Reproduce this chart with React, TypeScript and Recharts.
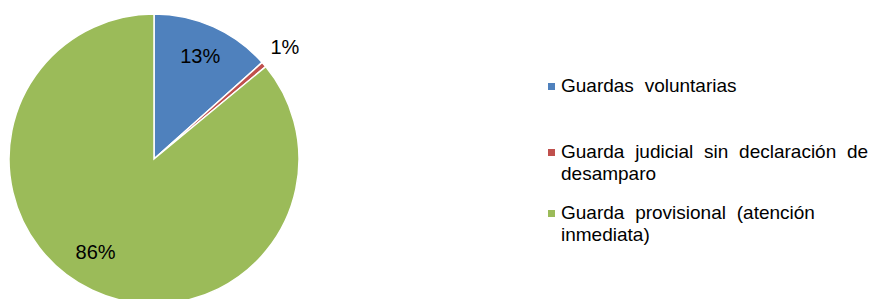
import React from 'react';
import { PieChart, Pie, Cell, Legend } from 'recharts';

const categories = [
  'Guardas voluntarias',
  'Guarda judicial sin declaración de desamparo',
  'Guarda provisional (atención inmediata)',
];
const shares = [13.4, 0.6, 86.0];
const labels = ['13%', '1%', '86%'];
const colors = ['#4F81BD', '#C0504D', '#9BBB59'];

const data = categories.map((name, i) => ({ name, value: shares[i], label: labels[i] }));

const RAD = Math.PI / 180;
const FONT = '"Liberation Sans", Arial, sans-serif';

// label placement tweaks, like Excel's best fit
const labelRadius = [0.78, 1.19, 0.756];
const labelShift = [0, 0, -7];

const renderLabel = (props: any) => {
  const { cx, cy, midAngle, outerRadius, index } = props;
  const r = outerRadius * labelRadius[index];
  const a = (midAngle + labelShift[index]) * RAD;
  const x = cx + r * Math.cos(a);
  const y = cy - r * Math.sin(a);
  return (
    <text x={x} y={y} fill="#000" fontSize={20} fontFamily={FONT} textAnchor="middle" dominantBaseline="central">
      {labels[index]}
    </text>
  );
};

const itemGaps = [0, 44, 17];

const renderLegend = () => (
  <div style={{ fontFamily: FONT, fontSize: 19, lineHeight: '22px', color: '#000', width: 330 }}>
    {categories.map((c, i) => (
      <div key={c} style={{ display: 'flex', alignItems: 'flex-start', marginTop: itemGaps[i] }}>
        <span style={{ width: 7, height: 7, background: colors[i], marginTop: 8, marginRight: 6, flexShrink: 0 }} />
        <span style={{ width: 312, wordSpacing: 5.5 }}>{c}</span>
      </div>
    ))}
  </div>
);

export default function App() {
  return (
    <div style={{ position: 'absolute', left: 0, top: 0, width: 882, height: 299, background: '#fff' }}>
      <PieChart width={882} height={299} margin={{ top: 0, right: 0, bottom: 0, left: 0 }}>
        <Pie
          data={data}
          dataKey="value"
          nameKey="name"
          cx={154}
          cy={159}
          outerRadius={145}
          startAngle={90}
          endAngle={-270}
          stroke="#fff"
          strokeWidth={1.5}
          label={renderLabel}
          labelLine={false}
          isAnimationActive={false}
        >
          {data.map((d, i) => (
            <Cell key={d.name} fill={colors[i]} />
          ))}
        </Pie>
        <Legend
          content={renderLegend}
          wrapperStyle={{ position: 'absolute', left: 548, top: 75, width: 334 }}
        />
      </PieChart>
    </div>
  );
}
